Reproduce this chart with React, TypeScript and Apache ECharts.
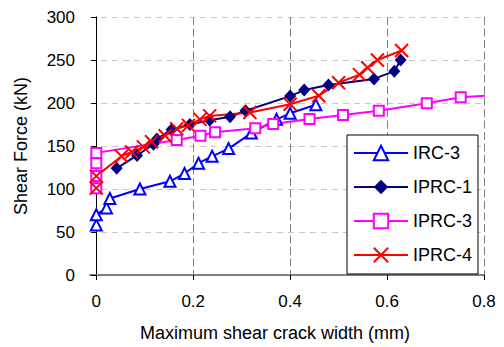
import React, { useEffect, useRef } from "react";
import * as echarts from "echarts";

const seriesNames = ["IRC-3", "IPRC-1", "IPRC-3", "IPRC-4"];

const irc3X = [0, 0, 0.021, 0.028, 0.09, 0.152, 0.182, 0.211, 0.239, 0.273, 0.32, 0.372, 0.4, 0.453];
const irc3Y = [58, 70, 78, 89, 100, 109, 118, 130, 138, 147, 165, 181, 188, 198];

const iprc1X = [0.042, 0.084, 0.118, 0.125, 0.155, 0.193, 0.234, 0.276, 0.308, 0.4, 0.429, 0.479, 0.573, 0.615, 0.628];
const iprc1Y = [124, 139, 152, 158, 169, 175, 180, 184, 191, 208, 215, 221, 228, 237, 250];

const iprc3X = [0, 0, 0, 0, 0.166, 0.215, 0.245, 0.328, 0.365, 0.44, 0.509, 0.583, 0.682, 0.752, 0.818];
const iprc3Y = [101, 115, 130, 142, 157, 162, 166, 170.5, 175.5, 181.5, 186, 191, 199.6, 206.8, 209];

const iprc4X = [0, 0, 0.052, 0.073, 0.097, 0.114, 0.142, 0.166, 0.19, 0.214, 0.234, 0.317, 0.4, 0.459, 0.5, 0.543, 0.56, 0.58, 0.63];
const iprc4Y = [101, 115, 138, 143, 149, 155, 162, 170, 174, 181, 185, 189, 198.5, 208.5, 223.5, 233, 241, 250, 261];

const xTicks = [0, 0.2, 0.4, 0.6, 0.8];

const FONT = "Liberation Sans, Arial, sans-serif";

function pairs(xs: number[], ys: number[]) {
  return xs.map((x, i) => [x, ys[i]]);
}

export default function App() {
  const ref = useRef<HTMLDivElement>(null);
  useEffect(() => {
    document.body.style.margin = "0";
    const chart = echarts.init(ref.current!, null, { renderer: "svg" });
    const iprc3Data: any[] = pairs(iprc3X, iprc3Y);
    // last point only continues the line past the plot edge (no marker)
    iprc3Data[iprc3Data.length - 1] = { value: iprc3Data[iprc3Data.length - 1], symbol: "none" };
    chart.setOption({
      animation: false,
      textStyle: { fontFamily: FONT },
      grid: { left: 90, right: 20, top: 17, bottom: 68 },
      xAxis: {
        type: "value",
        min: -0.013,
        max: 0.8,
        name: "Maximum shear crack width (mm)",
        nameLocation: "middle",
        nameGap: 49,
        nameTextStyle: { fontSize: 18, color: "#000", fontFamily: FONT, padding: [0, 24, 0, 0] },
        axisLine: { show: true, onZero: false, lineStyle: { color: "#808080", width: 2 } },
        axisTick: { show: true, customValues: xTicks, length: 5, lineStyle: { color: "#000" } },
        axisLabel: {
          customValues: xTicks,
          fontSize: 17,
          color: "#000",
          margin: 18,
          formatter: (v: number) => String(Math.round(v * 10) / 10),
        },
        splitLine: { show: true, lineStyle: { color: "#808080", type: [8, 3.5], width: 1 } },
      },
      yAxis: {
        type: "value",
        min: 0,
        max: 300,
        interval: 50,
        name: "Shear Force (kN)",
        nameLocation: "middle",
        nameGap: 60,
        nameTextStyle: { fontSize: 18, color: "#000", fontFamily: FONT },
        axisLine: { show: true, onZero: true, lineStyle: { color: "#000", width: 1 } },
        axisTick: { show: true, length: 5, lineStyle: { color: "#000" } },
        axisLabel: { fontSize: 17, color: "#000", margin: 15 },
        splitLine: { show: true, lineStyle: { color: "#c8c8c8", type: [6, 5], width: 1 } },
      },
      legend: {
        orient: "vertical",
        left: 347,
        top: 135,
        backgroundColor: "#fff",
        borderColor: "#000",
        borderWidth: 1,
        padding: [9, 6, 10, 6],
        itemWidth: 54,
        itemHeight: 18,
        itemGap: 16,
        textStyle: { fontSize: 18, color: "#000", fontFamily: FONT },
        data: seriesNames,
      },
      series: [
        {
          name: seriesNames[0],
          type: "line",
          data: pairs(irc3X, irc3Y),
          symbol: "triangle",
          symbolSize: 11,
          lineStyle: { color: "#0000ff", width: 2 },
          itemStyle: { color: "#fff", borderColor: "#0000ff", borderWidth: 2 },
          emphasis: { disabled: true },
        },
        {
          name: seriesNames[1],
          type: "line",
          data: pairs(iprc1X, iprc1Y),
          symbol: "diamond",
          symbolSize: [12, 13],
          lineStyle: { color: "#000080", width: 2 },
          itemStyle: { color: "#000080", borderColor: "#000080", borderWidth: 0 },
          emphasis: { disabled: true },
        },
        {
          name: seriesNames[2],
          type: "line",
          data: iprc3Data,
          clip: false,
          symbol: "rect",
          symbolSize: 10,
          lineStyle: { color: "#ff00ff", width: 2 },
          itemStyle: { color: "#fff", borderColor: "#ff00ff", borderWidth: 2 },
          emphasis: { disabled: true },
        },
        {
          name: seriesNames[3],
          type: "line",
          data: pairs(iprc4X, iprc4Y),
          symbol: "path://M0,0L10,10M0,10L10,0",
          symbolSize: 13,
          lineStyle: { color: "#ff0000", width: 2 },
          itemStyle: { color: "#ff0000", borderColor: "#ff0000", borderWidth: 2 },
          emphasis: { disabled: true },
        },
      ],
    });
    return () => chart.dispose();
  }, []);
  return <div ref={ref} style={{ width: 504, height: 347 }} />;
}
